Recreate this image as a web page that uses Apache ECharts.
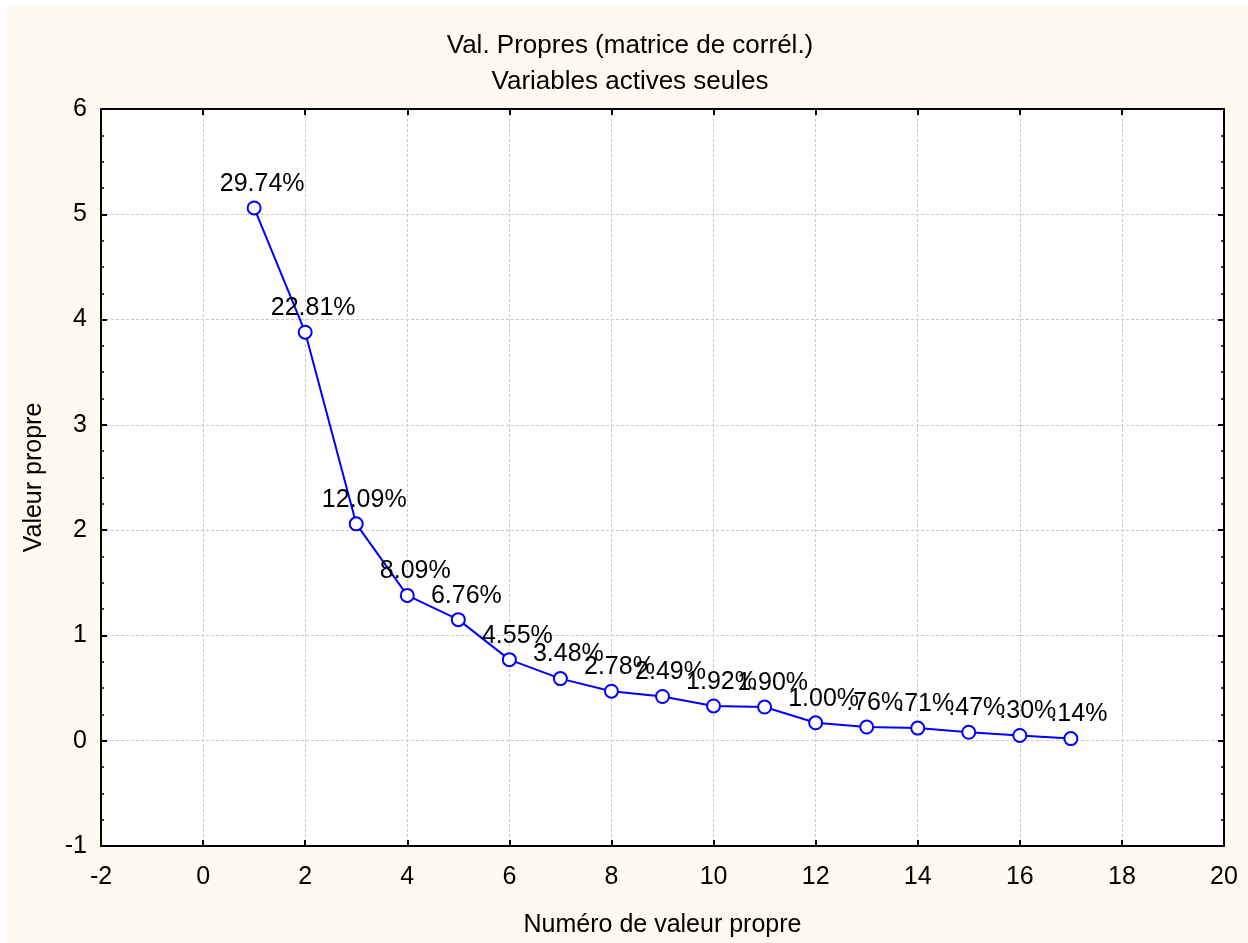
<!DOCTYPE html>
<html>
<head>
<meta charset="utf-8">
<script src="https://cdn.jsdelivr.net/npm/echarts@6/dist/echarts.min.js"></script>
<style>
html,body{margin:0;padding:0;background:#fff;}
#c{width:1248px;height:943px;}
</style>
</head>
<body>
<div id="c"></div>
<script>
const componentNumbers = [1,2,3,4,5,6,7,8,9,10,11,12,13,14,15,16,17];
const eigenValues = [5.06,3.88,2.06,1.38,1.15,0.77,0.59,0.47,0.42,0.33,0.32,0.17,0.13,0.12,0.08,0.05,0.02];
const pctLabels = ['29.74%','22.81%','12.09%','8.09%','6.76%','4.55%','3.48%','2.78%','2.49%','1.92%','1.90%','1.00%','.76%','.71%','.47%','.30%','.14%'];
const titleLines = ['Val. Propres (matrice de corrél.)','Variables actives seules'];
const xName = 'Numéro de valeur propre';
const yName = 'Valeur propre';

const FONT = '"Liberation Sans", Arial, sans-serif';
const FS = 25;
const chart = echarts.init(document.getElementById('c'), null, {renderer:'canvas'});
const gridLine = {show:true, lineStyle:{color:'#c8c8c8', type:[3,2], width:1}};
const inTick = {show:true, inside:true, length:6, lineStyle:{color:'#000', width:2}};
const minorT = {show:true, splitNumber:4, length:3, lineStyle:{color:'#000', width:1.5}};
const edgeLine = {show:true, onZero:false, lineStyle:{color:'#000', width:2}};
chart.setOption({
  backgroundColor:'#fff',
  animation:false,
  graphic:[{type:'rect', z:-10, silent:true, shape:{x:7,y:6,width:1241,height:937}, style:{fill:'#fffaef'}}],
  title:{
    text:titleLines.join('\n'),
    left:630, top:28, textAlign:'center', padding:0,
    textStyle:{fontFamily:FONT, fontSize:26, fontWeight:'normal', color:'#000', lineHeight:36}
  },
  grid:{left:101, top:109, right:24, bottom:96, show:true, backgroundColor:'#fff', borderColor:'#000', borderWidth:0, containLabel:false},
  xAxis:[{
    type:'value', min:-2, max:20, interval:2, position:'bottom',
    name:xName, nameLocation:'middle', nameGap:67,
    nameTextStyle:{fontFamily:FONT, fontSize:FS, color:'#000'},
    axisLine:edgeLine,
    axisTick:inTick,
    axisLabel:{fontFamily:FONT, fontSize:FS, color:'#000', margin:19},
    splitLine:gridLine
  },{
    type:'value', min:-2, max:20, interval:2, position:'top',
    axisLine:edgeLine,
    axisTick:inTick, axisLabel:{show:false}, splitLine:{show:false}
  }],
  yAxis:[{
    type:'value', min:-1, max:6, interval:1, position:'left',
    name:yName, nameLocation:'middle', nameGap:54, nameRotate:90,
    nameTextStyle:{fontFamily:FONT, fontSize:FS, color:'#000'},
    axisLine:edgeLine,
    axisTick:inTick,
    minorTick:minorT,
    axisLabel:{fontFamily:FONT, fontSize:FS, color:'#000', margin:14},
    splitLine:gridLine
  },{
    type:'value', min:-1, max:6, interval:1, position:'right',
    axisLine:edgeLine,
    axisTick:inTick, minorTick:minorT, axisLabel:{show:false}, splitLine:{show:false}
  }],
  series:[{
    type:'line',
    data:componentNumbers.map((n,i)=>[n, eigenValues[i]]),
    lineStyle:{color:'#0000ff', width:2},
    symbol:'circle', symbolSize:13,
    itemStyle:{color:'#fff', borderColor:'#0000ff', borderWidth:2},
    label:{
      show:true, position:'top', distance:4, offset:[8,0],
      formatter:p=>pctLabels[p.dataIndex],
      fontFamily:FONT, fontSize:FS, color:'#000'
    },
    z:5
  }]
});
</script>
</body>
</html>
